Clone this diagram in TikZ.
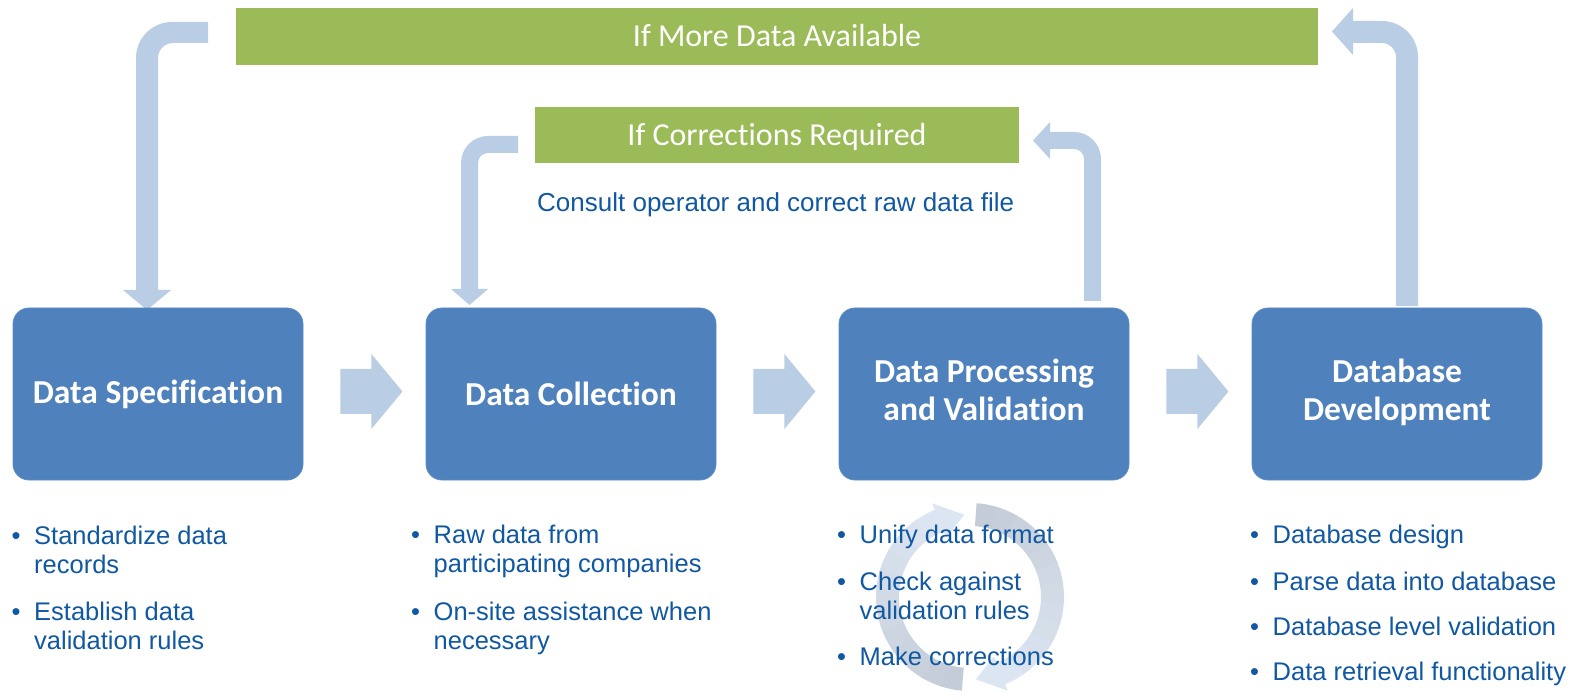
\documentclass[tikz,border=0pt]{standalone}
\usepackage{fontspec}
\setmainfont{Liberation Sans}
\newfontfamily\calib[Ligatures=NoCommon]{Carlito}
\definecolor{boxblue}{HTML}{4F81BD}
\definecolor{boxedge}{HTML}{5B8CC7}
\definecolor{barGreen}{HTML}{9BBB59}
\definecolor{arrowBlue}{HTML}{B9CDE5}
\definecolor{txtBlue}{HTML}{1158A3}
\definecolor{ringLight}{HTML}{DCE6F2}
\definecolor{ringDark}{HTML}{C4CCD7}
\newcommand\bdot{\makebox[22.5pt][l]{•}}
\newcommand\blockarrow[1]{\fill[flow,shift={(#1)}] (37,-25) -- (68,-25) -- (68,-40) -- (99,-2.5) -- (68,35) -- (68,20) -- (37,20) -- cycle;}
\begin{document}
\begin{tikzpicture}[x=1pt,y=-1pt,
  stage/.style={fill=boxblue, draw=boxedge, line width=0.8pt, rounded corners=16pt,
    minimum width=290pt, minimum height=172pt, inner sep=0pt, text=white,
    font=\calib\bfseries\fontsize{33.5}{38}\selectfont, align=center},
  bar/.style={fill=barGreen, inner sep=0pt, text=white,
    font=\calib\fontsize{32}{38}\selectfont, text height=20.6pt, text depth=0pt},
  flow/.style={fill=arrowBlue},
  bul/.style={anchor=base west, inner sep=0pt, text=txtBlue,
    font=\fontsize{25.5}{29}\selectfont}]
\useasboundingbox (0,0) rectangle (1577,700);

% circular arrows behind the bullets of stage 3
\foreach \i in {0,...,11}{
  \pgfmathsetmacro\sa{95+\i*(248-95)/12}
  \pgfmathsetmacro\ea{95+(\i+1)*(248-95)/12+0.6}
  \pgfmathtruncatemacro\pc{100*\i/11}
  \fill[ringLight!\pc!ringDark, shift={(970,597)}] (\sa:94) arc[start angle=\sa, end angle=\ea, radius=94] -- (\ea:71) arc[start angle=\ea, end angle=\sa, radius=71] -- cycle;
}
\fill[ringLight, shift={(970,597)}] (248:64) -- (248:101) -- (266:82.5) -- cycle;
\foreach \i in {0,...,11}{
  \pgfmathsetmacro\sa{274+\i*(428-274)/12}
  \pgfmathsetmacro\ea{274+(\i+1)*(428-274)/12+0.6}
  \pgfmathtruncatemacro\pc{100*\i/11}
  \fill[ringLight!\pc!ringDark, shift={(970,597)}] (\sa:94) arc[start angle=\sa, end angle=\ea, radius=94] -- (\ea:71) arc[start angle=\ea, end angle=\sa, radius=71] -- cycle;
}
\fill[ringLight, shift={(970,597)}] (428:64) -- (428:101) -- (446:82.5) -- cycle;

% green condition bars
\node[bar, minimum width=1082pt, minimum height=57pt] (more) at (777,36.5) {If More Data Available};
\node[bar, minimum width=484pt, minimum height=56pt] (corr) at (777,135) {If Corrections Required};
\node[bul, font=\fontsize{26}{30}\selectfont] (consult) at (537,212) {Consult operator and correct raw data file};

% bent feedback arrows
\fill[flow] (208,22) -- (172,22) arc[start angle=270, end angle=180, radius=36]
  -- (136,290) -- (123,290) -- (147,310) -- (171,290) -- (158,290) -- (158,58)
  arc[start angle=180, end angle=270, radius=15] -- (208,43) -- cycle;
\fill[flow] (1396,306) -- (1396,57) arc[start angle=0, end angle=-90, radius=14]
  -- (1353,43) -- (1353,55) -- (1332,31.5) -- (1353,8) -- (1353,21) -- (1382,21)
  arc[start angle=-90, end angle=0, radius=36] -- (1418,306) -- cycle;
\fill[flow] (518,136) -- (488,136) arc[start angle=270, end angle=180, radius=27]
  -- (461,289) -- (451,289) -- (469.5,305) -- (488,289) -- (478,289) -- (478,163)
  arc[start angle=180, end angle=270, radius=10] -- (518,153) -- cycle;
\fill[flow] (1084,301) -- (1084,159) arc[start angle=0, end angle=-90, radius=10]
  -- (1050,149) -- (1050,159) -- (1033,140.5) -- (1050,122) -- (1050,132) -- (1074,132)
  arc[start angle=-90, end angle=0, radius=27] -- (1101,301) -- cycle;

% stages
\node[stage] (spec) at (158,394) {Data Specification};
\node[stage] (coll) at (571,394) {Data Collection};
\node[stage] (proc) at (984,394) {\raisebox{2.5pt}{\begin{tabular}{@{}c@{}}Data Processing\\[-0.5pt]and Validation\end{tabular}}};
\node[stage] (dbdev) at (1397,394) {\raisebox{2.5pt}{\begin{tabular}{@{}c@{}}Database\\[-0.5pt]Development\end{tabular}}};

% forward arrows
\blockarrow{spec.east}
\blockarrow{coll.east}
\blockarrow{proc.east}

% bullets
\node[bul] (s1) at (11.5,544) {\bdot\begin{tabular}[t]{@{}l@{}}Standardize data\\records\end{tabular}};
\node[bul] (s2) at (11.5,620) {\bdot\begin{tabular}[t]{@{}l@{}}Establish data\\validation rules\end{tabular}};
\node[bul] (c1) at (411,543) {\bdot\begin{tabular}[t]{@{}l@{}}Raw data from\\participating companies\end{tabular}};
\node[bul] (c2) at (411,620) {\bdot\begin{tabular}[t]{@{}l@{}}On-site assistance when\\necessary\end{tabular}};
\node[bul] (p1) at (837,543) {\bdot Unify data format};
\node[bul] (p2) at (837,590) {\bdot\begin{tabular}[t]{@{}l@{}}Check against\\validation rules\end{tabular}};
\node[bul] (p3) at (837,665) {\bdot Make corrections};
\node[bul] (d1) at (1250,543) {\bdot Database design};
\node[bul] (d2) at (1250,590) {\bdot Parse data into database};
\node[bul] (d3) at (1250,635) {\bdot Database level validation};
\node[bul] (d4) at (1250,680) {\bdot Data retrieval functionality};
\end{tikzpicture}
\end{document}
